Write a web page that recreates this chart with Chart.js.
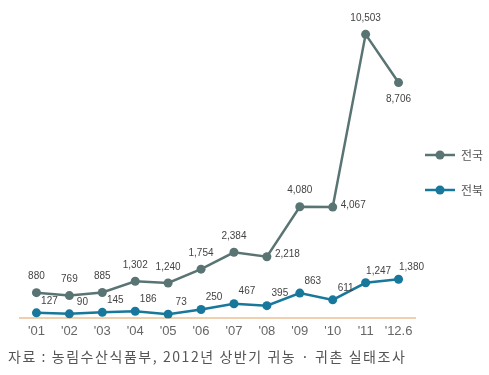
<!DOCTYPE html>
<html>
<head>
<meta charset="utf-8">
<script src="https://cdn.jsdelivr.net/npm/chart.js@4/dist/chart.umd.min.js"></script>
<style>
  html, body { margin: 0; padding: 0; background: #ffffff; }
  #wrap { width: 489px; height: 375px; position: relative; }
</style>
</head>
<body>
<div id="wrap"><canvas id="c" width="489" height="375"></canvas></div>
<script>
const categories = ["'01", "'02", "'03", "'04", "'05", "'06", "'07", "'08", "'09", "'10", "'11", "'12.6"];
const seriesNames = ["전국", "전북"];
const nationalValues = [880, 769, 885, 1302, 1240, 1754, 2384, 2218, 4080, 4067, 10503, 8706];
const jeonbukValues = [127, 90, 145, 186, 73, 250, 467, 395, 863, 611, 1247, 1380];
const nationalLabelSide = ['top','top','top','top','top','top','top','right','top','right','top','bottom'];
const jeonbukLabelSide = ['topright','topright','topright','topright','topright','topright','topright','topright','topright','topright','topright','topright'];
const sourceText = "자료 : 농림수산식품부, 2012년 상반기 귀농 · 귀촌 실태조사";

const COLOR_NAT = '#5a7474';
const COLOR_JB = '#17789c';
const LABEL_FONT = '10px "Liberation Sans Narrow", "Liberation Sans", Arial, sans-serif';

const valueLabels = {
  id: 'valueLabels',
  afterDatasetsDraw(chart) {
    const ctx = chart.ctx;
    ctx.save();
    ctx.font = LABEL_FONT;
    ctx.fillStyle = '#444';
    ctx.textBaseline = 'middle';
    chart.data.datasets.forEach((ds, di) => {
      const meta = chart.getDatasetMeta(di);
      const sides = di === 0 ? nationalLabelSide : jeonbukLabelSide;
      meta.data.forEach((pt, i) => {
        const txt = ds.data[i].toLocaleString('en-US');
        const side = sides[i];
        let x = pt.x, y = pt.y;
        if (side === 'top') { ctx.textAlign = 'center'; y -= 16; }
        else if (side === 'bottom') { ctx.textAlign = 'center'; y += 17; }
        else if (side === 'right') { ctx.textAlign = 'left'; x += 8; y -= 2; }
        else { ctx.textAlign = 'center'; x += 13; y -= 12; }
        ctx.fillText(txt, x, y);
      });
    });
    ctx.restore();
  }
};

const sideLegend = {
  id: 'sideLegend',
  afterDraw(chart) {
    const ctx = chart.ctx;
    ctx.save();
    const items = [[COLOR_NAT, 155], [COLOR_JB, 190]];
    items.forEach((it, i) => {
      const [col, y] = it;
      ctx.strokeStyle = col;
      ctx.lineWidth = 2.5;
      ctx.beginPath();
      ctx.moveTo(425, y); ctx.lineTo(455, y); ctx.stroke();
      ctx.fillStyle = col;
      ctx.beginPath(); ctx.arc(440, y, 4.5, 0, Math.PI * 2); ctx.fill();
      ctx.fillStyle = '#555';
      ctx.font = '12px "Noto Sans CJK KR", sans-serif';
      ctx.textAlign = 'left';
      ctx.textBaseline = 'middle';
      ctx.fillText(seriesNames[i], 461, y);
    });
    ctx.restore();
  }
};

const sourceNote = {
  id: 'sourceNote',
  afterDraw(chart) {
    const ctx = chart.ctx;
    ctx.save();
    ctx.font = '14px "Noto Sans CJK KR", sans-serif';
    ctx.fillStyle = '#555';
    ctx.textAlign = 'left';
    ctx.textBaseline = 'middle';
    const targetW = 397;
    const w = ctx.measureText(sourceText).width;
    const n = sourceText.length;
    if (w < targetW) ctx.letterSpacing = ((targetW - w) / (n - 1)).toFixed(2) + 'px';
    ctx.fillText(sourceText, 8, 357);
    ctx.restore();
  }
};

new Chart(document.getElementById('c'), {
  type: 'line',
  data: {
    labels: categories,
    datasets: [
      { label: seriesNames[0], data: nationalValues, borderColor: COLOR_NAT, backgroundColor: COLOR_NAT,
        borderWidth: 2.5, pointRadius: 4.5, pointBackgroundColor: COLOR_NAT, pointBorderWidth: 0, tension: 0 },
      { label: seriesNames[1], data: jeonbukValues, borderColor: COLOR_JB, backgroundColor: COLOR_JB,
        borderWidth: 2.5, pointRadius: 4.5, pointBackgroundColor: COLOR_JB, pointBorderWidth: 0, tension: 0 }
    ]
  },
  options: {
    responsive: false,
    animation: false,
    layout: { padding: { top: 21, left: 20, right: 74, bottom: 31 } },
    plugins: {
      legend: { display: false },
      tooltip: { enabled: false },
      title: { display: false }
    },
    scales: {
      x: {
        offset: true,
        grid: { display: false, drawTicks: false },
        border: { display: true, color: '#efcfae', width: 2 },
        ticks: { color: '#666', padding: 5, maxRotation: 0, minRotation: 0, autoSkip: false,
                 font: { family: '"Liberation Sans Narrow", "Liberation Sans", Arial', size: 13 } }
      },
      y: {
        display: false, min: -80, max: 11000
      }
    }
  },
  plugins: [valueLabels, sideLegend, sourceNote]
});
</script>
</body>
</html>
